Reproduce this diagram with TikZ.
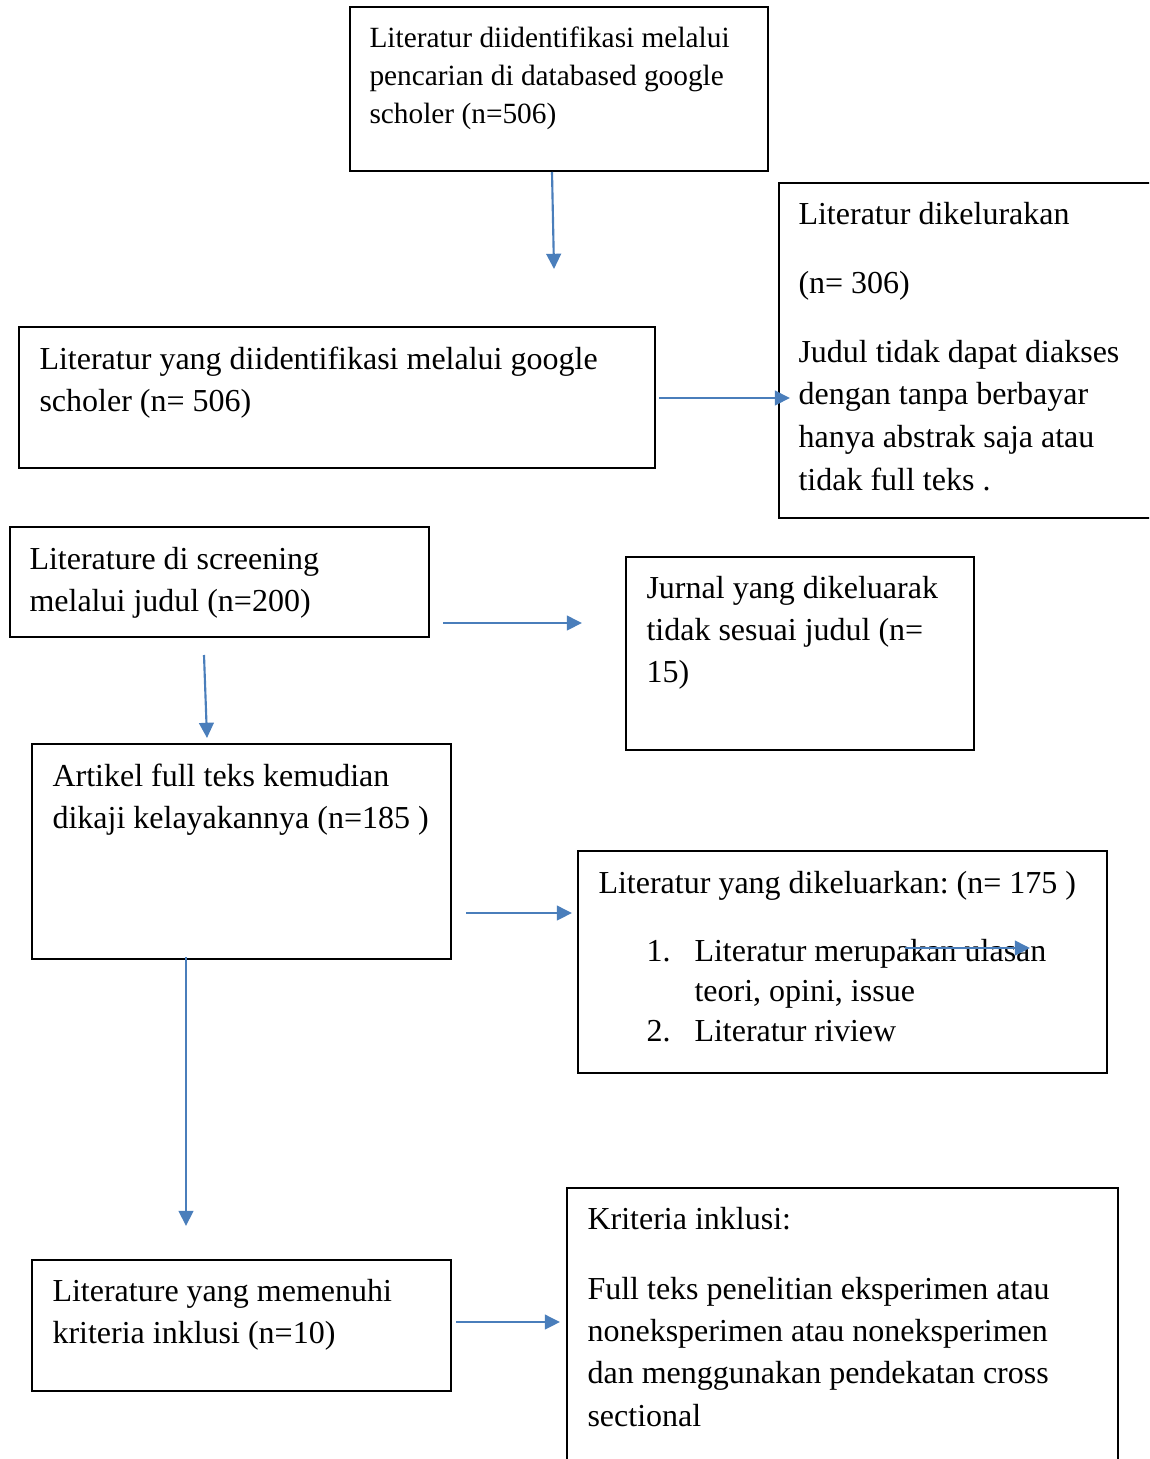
\documentclass[tikz,border=0pt]{standalone}
\usepackage{fontspec}
\setmainfont{Liberation Serif}
\frenchspacing
\usetikzlibrary{arrows.meta,fit}
\definecolor{arrowblue}{RGB}{74,126,187}
\tikzset{
  box/.style={draw=black, line width=0.8pt, inner sep=0pt},
  txt/.style={anchor=north west, inner sep=0pt, align=left, text=black},
  bigtxt/.style={txt, font=\fontsize{12}{15.75}\selectfont},
  flow/.style={draw=arrowblue, line width=0.8pt, -{Triangle[length=5.7pt,width=5.5pt]}},
}
\begin{document}
\begin{tikzpicture}[x=0.375pt,y=-0.375pt]
\useasboundingbox (0,0) rectangle (1149,1459);
\clip (0,0) rectangle (1149,1459);

% boxes
\node[box, fit={(350,7) (768,171)}] (A) {};
\node[box, fit={(779,183) (1175,518)}] (B) {};
\node[box, fit={(19,327) (655,468)}] (C) {};
\node[box, fit={(10,527) (429,637)}] (D) {};
\node[box, fit={(626,557) (974,750)}] (E) {};
\node[box, fit={(32,744) (451,959)}] (F) {};
\node[box, fit={(578,851) (1107,1073)}] (G) {};
\node[box, fit={(32,1260) (451,1391)}] (H) {};
\node[box, fit={(567,1188) (1118,1485)}] (I) {};

% texts
\node[txt, font=\fontsize{11}{14.25}\selectfont] (At) at (369,20)
  {\strut Literatur diidentifikasi melalui\\ pencarian di databased google\\ scholer (n=506)};
\node[txt, font=\fontsize{12}{16}\selectfont] (Bt) at (798,193.6)
  {\strut Literatur dikelurakan\\[9.9pt] (n= 306)\\[9.9pt] Judul tidak dapat diakses\\ dengan tanpa berbayar\\ hanya abstrak saja atau\\ tidak full teks .};
\node[bigtxt] (Ct) at (39,339.1)
  {\strut Literatur yang diidentifikasi melalui google\\ scholer (n= 506)};
\node[bigtxt] (Dt) at (29,539.1)
  {\strut Literature di screening\\ melalui judul (n=200)};
\node[bigtxt] (Et) at (646,568.1)
  {\strut Jurnal yang dikeluarak\\ tidak sesuai judul (n=\\ 15)};
\node[bigtxt] (Ft) at (52,756.1)
  {\strut Artikel full teks kemudian\\ dikaji kelayakannya (n=185 )};
\node[txt, font=\fontsize{12}{15}\selectfont] (Gt) at (598,864.5)
  {\strut Literatur yang dikeluarkan: (n= 175 )\\[10.5pt]
   \hspace*{18pt}\makebox[18pt][l]{1.}Literatur merupakan ulasan\\
   \hspace*{36pt}teori, opini, issue\\
   \hspace*{18pt}\makebox[18pt][l]{2.}Literatur riview};
\node[bigtxt] (Ht) at (52,1271.1)
  {\strut Literature yang memenuhi\\ kriteria inklusi (n=10)};
\node[txt, font=\fontsize{12}{15.9}\selectfont] (It) at (587,1198.8)
  {\strut Kriteria inklusi:\\[10.4pt] Full teks penelitian eksperimen atau\\ noneksperimen atau noneksperimen\\ dan menggunakan pendekatan cross\\ sectional};

% connector end points
\coordinate (a1s) at (552,172);  \coordinate (a1e) at (554,269);
\coordinate (a2s) at (659,398);  \coordinate (a2e) at (790,398);
\coordinate (a3s) at (443,623);  \coordinate (a3e) at (582,623);
\coordinate (a4s) at (204,655);  \coordinate (a4e) at (207,738);
\coordinate (a5s) at (466,913);  \coordinate (a5e) at (572,913);
\coordinate (a6s) at (186,957);  \coordinate (a6e) at (186,1226);
\coordinate (a7s) at (905,948);  \coordinate (a7e) at (1030,948);
\coordinate (a8s) at (456,1322); \coordinate (a8e) at (560,1322);

\draw[flow] (a1s) -- (a1e);
\draw[flow] (a2s) -- (a2e);
\draw[flow] (a3s) -- (a3e);
\draw[flow] (a4s) -- (a4e);
\draw[flow] (a5s) -- (a5e);
\draw[flow] (a6s) -- (a6e);
\draw[flow] (a7s) -- (a7e);
\draw[flow] (a8s) -- (a8e);
\end{tikzpicture}
\end{document}
